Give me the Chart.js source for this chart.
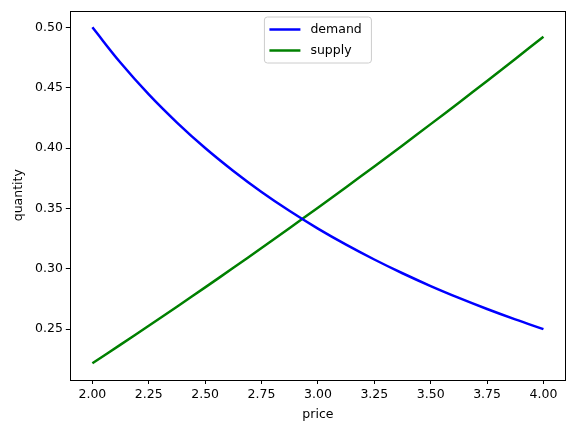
<!DOCTYPE html>
<html>
<head>
<meta charset="utf-8">
<script src="https://cdn.jsdelivr.net/npm/chart.js@4"></script>
<style>
  html, body { margin: 0; padding: 0; background: #fff; }
  #wrap { width: 575px; height: 432px; }
</style>
</head>
<body>
<div id="wrap"><canvas id="marketChart" width="575" height="432"></canvas></div>
<script>
const prices = [2.0, 2.125, 2.25, 2.375, 2.5, 2.625, 2.75, 2.875, 3.0, 3.125, 3.25, 3.375, 3.5, 3.625, 3.75, 3.875, 4.0];
const demandQty = [0.5000, 0.4706, 0.4444, 0.4211, 0.4000, 0.3810, 0.3636, 0.3478, 0.3333, 0.3200, 0.3077, 0.2963, 0.2857, 0.2759, 0.2667, 0.2581, 0.2500];
const supplyQty = [0.2218, 0.2372, 0.2528, 0.2686, 0.2846, 0.3008, 0.3172, 0.3338, 0.3506, 0.3676, 0.3848, 0.4022, 0.4198, 0.4376, 0.4556, 0.4738, 0.4922];
const xTicks = [2.0, 2.25, 2.5, 2.75, 3.0, 3.25, 3.5, 3.75, 4.0];
const yTicks = [0.25, 0.30, 0.35, 0.40, 0.45, 0.50];

const font = { family: 'DejaVu Sans', size: 12.5 };

// frame around the plot + matplotlib style legend box
const framePlugin = {
  id: 'frame',
  afterDraw(chart) {
    const { ctx, chartArea: a } = chart;
    ctx.save();
    ctx.strokeStyle = '#000';
    ctx.lineWidth = 1;
    ctx.strokeRect(Math.round(a.left) + 0.5, Math.round(a.top) + 0.5,
      Math.round(a.right - a.left) - 1, Math.round(a.bottom - a.top) - 1);

    const w = 107, h = 46;
    const cx = (a.left + a.right) / 2;
    const x0 = cx - w / 2, y0 = a.top + 6.5;
    ctx.beginPath();
    ctx.roundRect(x0, y0, w, h, 3);
    ctx.fillStyle = 'rgba(255,255,255,0.8)';
    ctx.fill();
    ctx.strokeStyle = '#cccccc';
    ctx.stroke();

    ctx.font = '12.5px "DejaVu Sans"';
    ctx.textBaseline = 'middle';
    ctx.lineWidth = 2.5;
    chart.data.datasets.forEach((ds, i) => {
      const y = y0 + 12.5 + i * 21;
      ctx.strokeStyle = ds.borderColor;
      ctx.beginPath();
      ctx.moveTo(x0 + 5, y);
      ctx.lineTo(x0 + 36, y);
      ctx.stroke();
      ctx.fillStyle = '#000';
      ctx.fillText(ds.label, x0 + 46, y);
    });
    ctx.restore();
  }
};

new Chart(document.getElementById('marketChart'), {
  type: 'line',
  data: {
    datasets: [{
      label: 'demand',
      data: prices.map((p, i) => ({ x: p, y: demandQty[i] })),
      borderColor: '#0000ff',
      borderWidth: 2.5,
      pointRadius: 0,
      tension: 0.4,
      fill: false
    }, {
      label: 'supply',
      data: prices.map((p, i) => ({ x: p, y: supplyQty[i] })),
      borderColor: '#008000',
      borderWidth: 2.5,
      pointRadius: 0,
      tension: 0.4,
      fill: false
    }]
  },
  options: {
    responsive: false,
    animation: false,
    layout: { padding: { top: 9, right: 9, left: 11, bottom: 10 } },
    plugins: { legend: { display: false }, tooltip: { enabled: false } },
    scales: {
      x: {
        type: 'linear',
        min: 1.9,
        max: 4.1,
        afterBuildTicks: (s) => { s.ticks = xTicks.map(v => ({ value: v })); },
        ticks: { font, color: '#000', padding: 3, maxRotation: 0, callback: (v) => v.toFixed(2) },
        grid: { drawOnChartArea: false, drawTicks: true, tickLength: 4, color: '#000' },
        border: { display: false },
        title: { display: true, text: 'price', font, color: '#000', padding: { top: 2, bottom: 0 } }
      },
      y: {
        min: 0.2079,
        max: 0.5139,
        afterBuildTicks: (s) => { s.ticks = yTicks.map(v => ({ value: v })); },
        ticks: { font, color: '#000', padding: 3, callback: (v) => v.toFixed(2) },
        grid: { drawOnChartArea: false, drawTicks: true, tickLength: 4, color: '#000' },
        border: { display: false },
        title: { display: true, text: 'quantity', font, color: '#000', padding: { top: 0, bottom: 6 } }
      }
    }
  },
  plugins: [framePlugin]
});
</script>
</body>
</html>
